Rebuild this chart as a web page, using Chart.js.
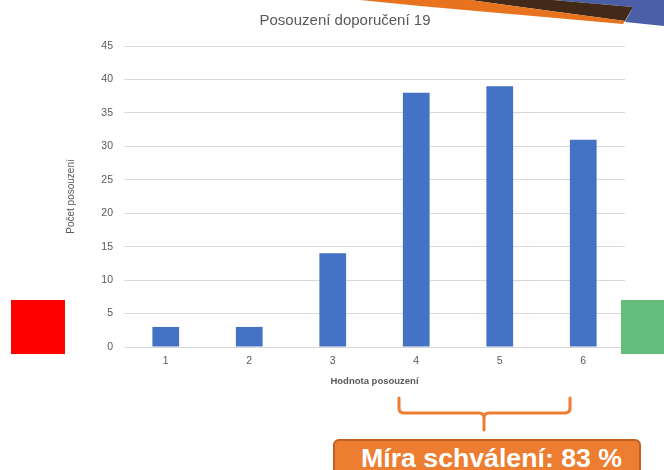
<!DOCTYPE html>
<html>
<head>
<meta charset="utf-8">
<script src="https://cdn.jsdelivr.net/npm/chart.js@4.4.1/dist/chart.umd.min.js"></script>
<style>
  html, body { margin: 0; padding: 0; background: #fff; }
  #wrap { position: relative; width: 664px; height: 470px; overflow: hidden; background: #fff; }
  #c { position: absolute; left: 0; top: 0; }
  .deco { position: absolute; left: 0; top: 0; }
  #red { position: absolute; left: 11px; top: 300px; width: 54px; height: 54px; background: #FF0000; }
  #green { position: absolute; left: 621px; top: 300px; width: 43px; height: 54px; background: #63BE7B; }
  #box { position: absolute; left: 333px; top: 439px; width: 304px; height: 40px; background: #ED7D31;
         border: 2px solid #C0601F; border-radius: 6px; }
  #boxtext { position: absolute; left: 361px; top: 445px; font-family: "Liberation Sans", Arial, sans-serif;
             font-weight: bold; font-size: 26.7px; line-height: 26px; color: #fff; white-space: nowrap; }
</style>
</head>
<body>
<div id="wrap">
  <canvas id="c" width="664" height="470"></canvas>
  <svg class="deco" width="664" height="470" viewBox="0 0 664 470">
    <polygon points="553,0 664,0 664,26 625,22 633,7" fill="#4A5FA8"/>
    <polygon points="470,0 553,0 633,7 625,21" fill="#432A18"/>
    <polygon points="360,0 470,0 625,21 623,24 420,6" fill="#E8731E"/>
    <path d="M399,398 L399,408 Q399,413 404,413 L479,413 Q484,413 484,418 L484,430 M484,418 Q484,413 489,413 L565,413 Q570,413 570,408 L570,398"
          fill="none" stroke="#ED7D31" stroke-width="3" stroke-linecap="round"/>
  </svg>
  <div id="red"></div>
  <div id="green"></div>
  <div id="box"></div>
  <div id="boxtext">Míra schválení: 83 %</div>
</div>
<script>
const chartTitle = "Posouzení doporučení 19";
const xAxisTitle = "Hodnota posouzení";
const yAxisTitle = "Počet posouzení";
const categories = ["1", "2", "3", "4", "5", "6"];
const counts = [3, 3, 14, 38, 39, 31];
const yMin = 0, yMax = 45, yStep = 5;

const FONT = '"Liberation Sans", Arial, sans-serif';
const TXT = '#595959';

new Chart(document.getElementById('c'), {
  type: 'bar',
  data: {
    labels: categories,
    datasets: [{
      data: counts,
      backgroundColor: '#4472C4',
      borderWidth: 0,
      barPercentage: 0.32,
      categoryPercentage: 1.0
    }]
  },
  options: {
    responsive: false,
    animation: false,
    layout: { padding: { top: 0, left: 65, right: 39, bottom: 83 } },
    plugins: {
      legend: { display: false },
      tooltip: { enabled: false },
      title: {
        display: true,
        text: chartTitle,
        color: TXT,
        font: { family: FONT, size: 15, weight: 'normal', lineHeight: 1.2 },
        padding: { top: 12, bottom: 16 }
      }
    },
    scales: {
      x: {
        grid: { display: false, drawTicks: false },
        border: { display: false },
        ticks: { color: TXT, font: { family: FONT, size: 10.5 }, padding: 8, maxRotation: 0 },
        title: { display: true, text: xAxisTitle, color: TXT,
                 font: { family: FONT, size: 9.5, weight: 'bold', lineHeight: 1.2 },
                 padding: { top: 0, bottom: 0 } },
        afterFit: (s) => { s.height = 40; }
      },
      y: {
        min: yMin, max: yMax,
        grid: { color: '#D9D9D9', lineWidth: 1, drawTicks: false },
        border: { display: false },
        ticks: { stepSize: yStep, color: TXT, font: { family: FONT, size: 10.5 }, padding: 11 },
        title: { display: true, text: yAxisTitle, color: TXT,
                 font: { family: FONT, size: 10, weight: 'normal', lineHeight: 1.2 },
                 padding: { top: 0, bottom: 0 } },
        afterFit: (s) => { s.width = 59; }
      }
    }
  }
});
</script>
</body>
</html>
